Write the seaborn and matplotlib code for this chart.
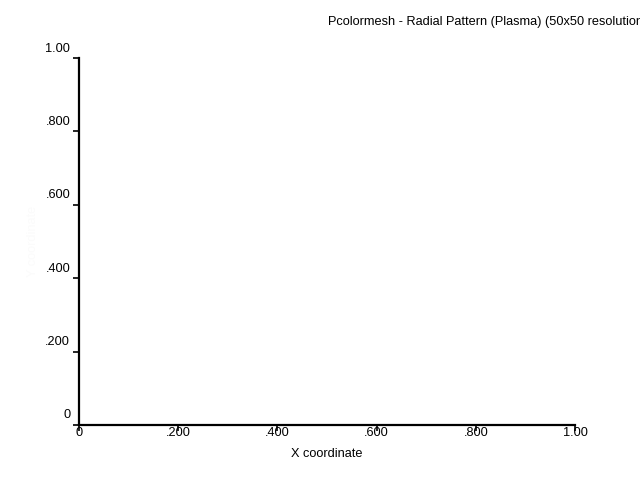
import matplotlib
matplotlib.use("Agg")
import matplotlib.pyplot as plt
import matplotlib.transforms as mtransforms
import seaborn as sns
import numpy as np

# Data (the reference shows an empty pcolormesh area)
x_ticks = [0.0, 0.2, 0.4, 0.6, 0.8, 1.0]
x_tick_labels = ["0", ".200", ".400", ".600", ".800", "1.00"]
y_ticks = [0.0, 0.2, 0.4, 0.6, 0.8, 1.0]
y_tick_labels = ["0", ".200", ".400", ".600", ".800", "1.00"]
title_text = "Pcolormesh - Radial Pattern (Plasma) (50x50 resolution)"
x_label = "X coordinate"
y_label = "Y coordinate"

sns.set_theme(style="white")
plt.rcParams['font.family'] = ['Liberation Sans', 'DejaVu Sans']

FS = 9.2
fig = plt.figure(figsize=(6.4, 4.8), dpi=100)
ax = fig.add_axes([79/640, 1-425/480, (575-79)/640, (425-58)/480])
ax.set_xlim(0, 1)
ax.set_ylim(0, 1)

for s in ["top", "right"]:
    ax.spines[s].set_visible(False)
for s in ["left", "bottom"]:
    ax.spines[s].set_color("black")
    ax.spines[s].set_linewidth(1.6)

ax.set_xticks(x_ticks)
ax.set_xticklabels(x_tick_labels)
ax.set_yticks(y_ticks)
ax.set_yticklabels(y_tick_labels)
ax.tick_params(axis="both", which="major", direction="out", length=4.3, width=1.2,
               color="black", labelsize=FS, labelcolor="black",
               bottom=True, left=True, top=False, right=False)
ax.tick_params(axis="x", pad=-2.6)
ax.tick_params(axis="y", pad=2.0)

off = mtransforms.ScaledTranslation(0, 11/100, fig.dpi_scale_trans)
for lab in ax.get_yticklabels():
    lab.set_transform(lab.get_transform() + off)

ax.set_xlabel(x_label, fontsize=FS, color="black", labelpad=6)
fig.text(33/640, 1-241/480, y_label, rotation=90, ha="center", va="center",
         fontsize=FS, color="#fbfbfb")
fig.text(328/640, 1-22/480, title_text, ha="left", va="center", fontsize=FS, color="black")

fig.savefig("out.png", dpi=100)
